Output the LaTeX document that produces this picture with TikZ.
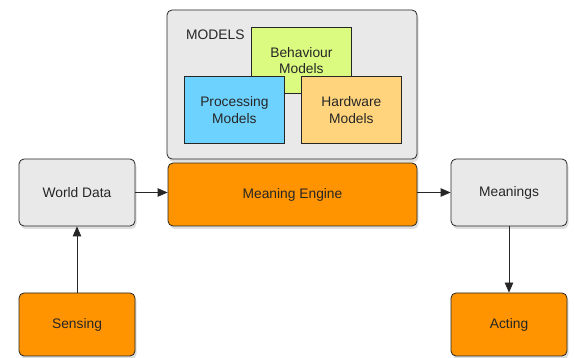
\documentclass[tikz,border=0pt]{standalone}
\usepackage{fontspec}
\setmainfont{Liberation Sans}
\usetikzlibrary{shadows,arrows.meta}
\definecolor{orng}{HTML}{FF9400}
\definecolor{lgray}{HTML}{E9E9E9}
\definecolor{lime}{HTML}{DBFA80}
\definecolor{sky}{HTML}{6ED2FF}
\definecolor{sand}{HTML}{FFD47C}
\tikzset{
  txt/.style={font=\fontsize{13.8}{16.5}\selectfont, text=black!85},
  box/.style={txt, draw=black!85, line width=0.8pt, rounded corners=5pt, align=center,
    drop shadow={shadow xshift=1.5pt, shadow yshift=-3pt, opacity=0.25}},
  sq/.style={txt, draw=black!85, line width=0.8pt, align=center},
  conn/.style={-{Triangle[length=10pt,width=8.5pt]}, line width=0.8pt, black!85}
}
\begin{document}
\begin{tikzpicture}[x=1pt,y=-1pt]
\useasboundingbox (0,0) rectangle (574,358);
% container
\path[box, fill=lgray] (167,10) rectangle (417,159);
\node[txt, anchor=west, inner sep=0pt] (mlabel) at (186,35) {MODELS};
\node[sq, fill=lime, minimum width=100pt, minimum height=66pt, anchor=north west] (beh) at (251,27) {\raisebox{7pt}{\parbox{90pt}{\centering Behaviour\\Models}}};
\node[sq, fill=sky, minimum width=100pt, minimum height=67pt, anchor=north west] (proc) at (184,76) {Processing\\Models};
\node[sq, fill=sand, minimum width=100pt, minimum height=67pt, anchor=north west] (hard) at (301,76) {Hardware\\Models};
% main nodes
\node[box, fill=lgray, minimum width=116pt, minimum height=67pt] (world) at (77,192.5) {World Data};
\node[box, fill=orng, minimum width=116pt, minimum height=63pt] (sensing) at (77,324.5) {Sensing};
\node[box, fill=orng, minimum width=249pt, minimum height=63pt] (engine) at (292.5,194.5) {Meaning Engine};
\node[box, fill=lgray, minimum width=116pt, minimum height=67pt] (meanings) at (509,192.5) {Meanings};
\node[box, fill=orng, minimum width=116pt, minimum height=63pt] (acting) at (509,324.5) {Acting};
% connectors
\draw[conn] (world.east) -- (engine.west |- world.east);
\draw[conn] (engine.east |- meanings.west) -- (meanings.west);
\draw[conn] (sensing.north) -- (world.south);
\draw[conn] (meanings.south) -- (acting.north);
\end{tikzpicture}
\end{document}
